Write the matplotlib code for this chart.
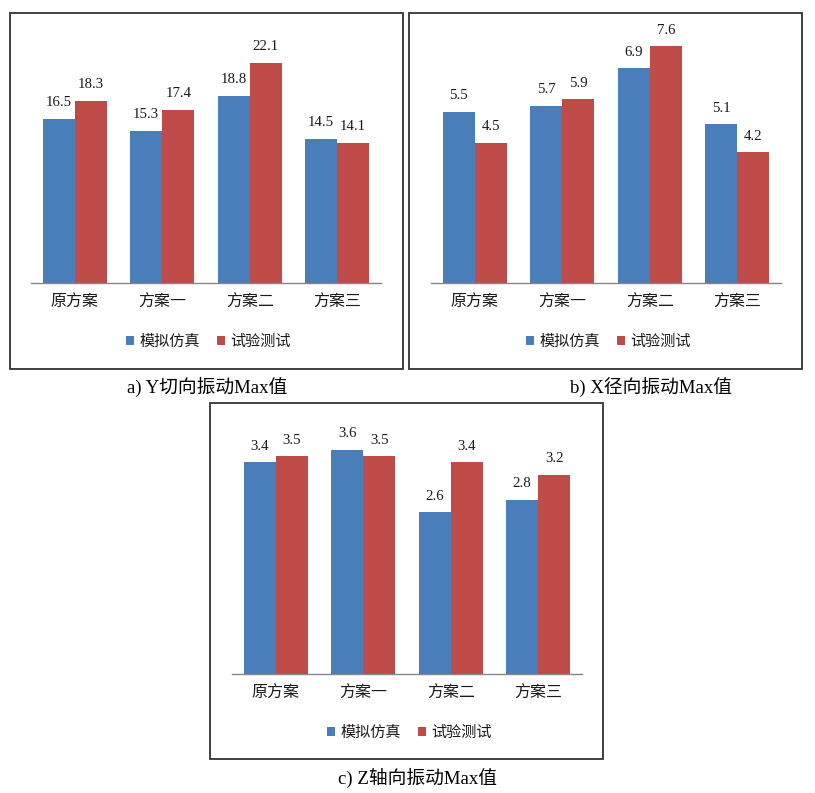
import matplotlib.pyplot as plt
from matplotlib.patches import Rectangle

# data
categories = ['原方案', '方案一', '方案二', '方案三']
series_names = ['模拟仿真', '试验测试']
y_sim = [16.5, 15.3, 18.8, 14.5]
y_test = [18.3, 17.4, 22.1, 14.1]
x_sim = [5.5, 5.7, 6.9, 5.1]
x_test = [4.5, 5.9, 7.6, 4.2]
z_sim = [3.4, 3.6, 2.6, 2.8]
z_test = [3.5, 3.5, 3.4, 3.2]
captions = ['a) Y切向振动Max值', 'b) X径向振动Max值', 'c) Z轴向振动Max值']

blue = '#4A7EBB'
red = '#BE4B48'
W, H = 815, 793
serif = ['Liberation Serif', 'Noto Sans CJK SC']
cjk = ['Noto Sans CJK SC', 'DejaVu Sans']

fig = plt.figure(figsize=(W / 100, H / 100), dpi=100)


def px_rect(x0, y0, x1, y1):
    return [x0 / W, 1 - y1 / H, (x1 - x0) / W, (y1 - y0) / H]


def panel(rect, sim, test, ymax):
    ax = fig.add_axes(rect)
    xs = range(len(categories))
    bw = 0.366
    b1 = ax.bar([i - bw / 2 for i in xs], sim, bw, color=blue, label=series_names[0])
    b2 = ax.bar([i + bw / 2 for i in xs], test, bw, color=red, label=series_names[1])
    for bars, vals in ((b1, sim), (b2, test)):
        for b, v in zip(bars, vals):
            ax.annotate(f'{v:.1f}', (b.get_x() + b.get_width() / 2, v),
                        xytext=(0, 11.5), textcoords='offset points',
                        ha='center', va='center', fontsize=10.7, family=serif,
                        color='#1a1a1a')
    ax.set_xlim(-0.5, 3.5)
    ax.set_ylim(0, ymax)
    ax.set_xticks(list(xs))
    ax.set_xticklabels(categories, family=cjk, fontsize=11.5, color='#1a1a1a')
    ax.tick_params(axis='x', length=0, pad=8)
    ax.set_yticks([])
    for s in ('top', 'right', 'left'):
        ax.spines[s].set_visible(False)
    ax.spines['bottom'].set_color('#868686')
    ax.spines['bottom'].set_linewidth(1.0)
    ax.patch.set_alpha(0)
    ax.legend(loc='center', bbox_to_anchor=(0.507, -0.233), ncol=2, frameon=False,
              prop={'family': cjk, 'size': 10.9}, handlelength=0.55, handleheight=0.55,
              handletextpad=0.35, columnspacing=1.1, labelcolor='#1a1a1a')
    return ax


# outer boxes
for x0, y0, x1, y1 in [(10, 13, 403, 369), (409, 13, 802, 369), (210, 403, 603, 759)]:
    r = px_rect(x0, y0, x1, y1)
    fig.patches.append(Rectangle((r[0], r[1]), r[2], r[3], transform=fig.transFigure,
                                 fill=False, edgecolor='#333333', linewidth=1.3))

panel(px_rect(31, 34, 381, 283), y_sim, y_test, 25)
panel(px_rect(431, 34, 781, 283), x_sim, x_test, 8)
panel(px_rect(232, 425, 582, 674), z_sim, z_test, 4)

fig.text(207 / W, 1 - 387 / H, captions[0], ha='center', va='center', fontsize=13.5, family=serif)
fig.text(651 / W, 1 - 387 / H, captions[1], ha='center', va='center', fontsize=13.5, family=serif)
fig.text(417 / W, 1 - 778 / H, captions[2], ha='center', va='center', fontsize=13.5, family=serif)

fig.savefig('out.png', dpi=100)
